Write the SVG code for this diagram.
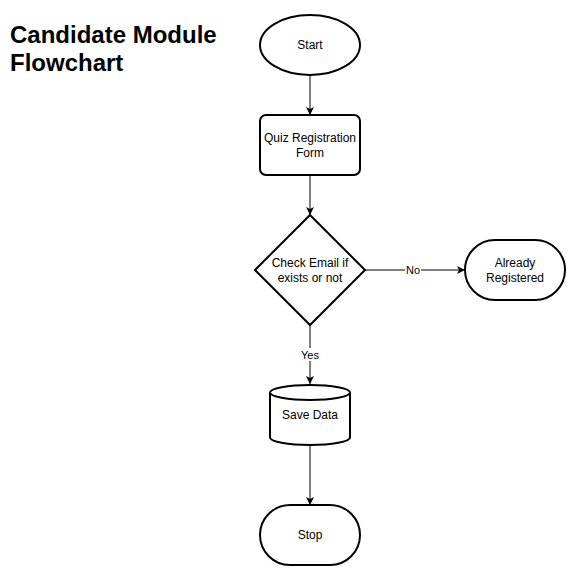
<svg xmlns="http://www.w3.org/2000/svg" width="572" height="571" viewBox="0 0 572 571">
<style>
.shape{fill:#fff;stroke:#000;stroke-width:2}
.t{font-family:"Liberation Sans",Arial,sans-serif;font-size:12px;fill:#000;text-anchor:middle}
.lbl{font-family:"Liberation Sans",Arial,sans-serif;font-size:11px;fill:#000;text-anchor:middle}
.edge{fill:none;stroke:#000;stroke-width:1}
.title{font-family:"Liberation Sans",Arial,sans-serif;font-size:24px;font-weight:bold;fill:#000}
</style>
<defs>
<marker id="arr" viewBox="0 0 10 10" refX="10" refY="5" markerWidth="8" markerHeight="8" markerUnits="userSpaceOnUse" orient="auto">
<path d="M0,0 L10,5 L0,10 L2.5,5 Z" fill="#000"/>
</marker>
</defs>
<rect width="572" height="571" fill="#fff"/>
<g id="title">
<text class="title" x="10" y="43">Candidate Module</text>
<text class="title" x="10" y="71">Flowchart</text>
</g>
<g id="connectors">
<path class="edge" d="M310,75 L310,115" marker-end="url(#arr)"/>
<path class="edge" d="M310,175 L310,215" marker-end="url(#arr)"/>
<path class="edge" d="M365,270 L465,270" marker-end="url(#arr)"/>
<path class="edge" d="M310,325 L310,384" marker-end="url(#arr)"/>
<path class="edge" d="M310,445 L310,505" marker-end="url(#arr)"/>
<rect x="405" y="263" width="16" height="13" fill="#fff"/>
<text class="lbl" x="413" y="274">No</text>
<rect x="299" y="348" width="22" height="13" fill="#fff"/>
<text class="lbl" x="310" y="359">Yes</text>
</g>
<g id="start">
<ellipse class="shape" cx="310" cy="45" rx="50" ry="30"/>
<text class="t" x="310" y="49">Start</text>
</g>
<g id="form">
<rect class="shape" x="260" y="115" width="100" height="60" rx="6"/>
<text class="t" x="310" y="142">Quiz Registration</text>
<text class="t" x="310" y="157">Form</text>
</g>
<g id="check">
<path class="shape" d="M310,215 L365,270 L310,325 L255,270 Z"/>
<text class="t" x="310" y="267">Check Email if</text>
<text class="t" x="310" y="282">exists or not</text>
</g>
<g id="registered">
<rect class="shape" x="465" y="240" width="100" height="60" rx="30"/>
<text class="t" x="515" y="267">Already</text>
<text class="t" x="515" y="282">Registered</text>
</g>
<g id="save">
<path class="shape" d="M270,392.5 A40,7.5 0 0 1 350,392.5 L350,437.5 A40,7.5 0 0 1 270,437.5 Z"/>
<path class="shape" d="M270,392.5 A40,7.5 0 0 0 350,392.5" fill="none"/>
<text class="t" x="310" y="419">Save Data</text>
</g>
<g id="stop">
<rect class="shape" x="260" y="505" width="100" height="60" rx="30"/>
<text class="t" x="310" y="539">Stop</text>
</g>
</svg>
